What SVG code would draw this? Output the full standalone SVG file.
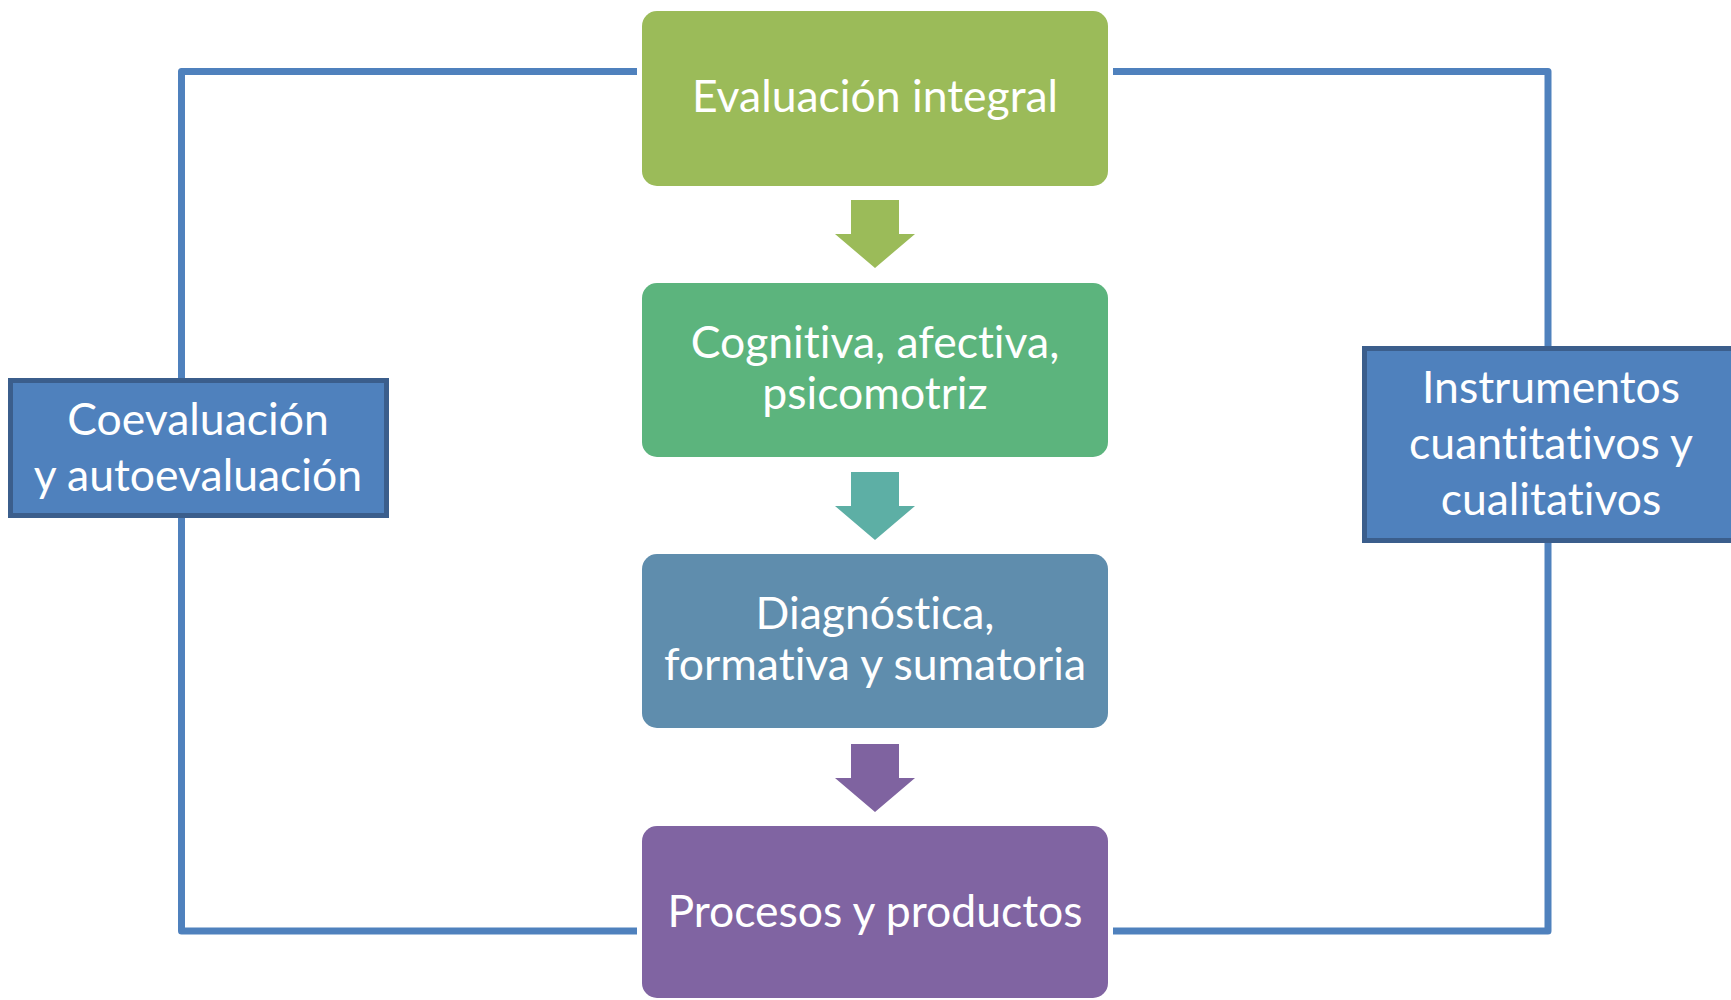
<svg xmlns="http://www.w3.org/2000/svg" width="1731" height="1000" viewBox="0 0 1731 1000">
<style>
.t{font-family:Lato,"Open Sans","Liberation Sans",sans-serif;font-size:44.5px;fill:#ffffff;text-anchor:middle;font-variant-ligatures:none;font-feature-settings:"liga" 0,"dlig" 0}
.ln{fill:none;stroke:#4F81BD;stroke-width:7;stroke-linejoin:round}
.side{fill:#4F81BD;stroke:#3B5E8C;stroke-width:5}
</style>
<rect width="1731" height="1000" fill="#ffffff"/>
<g id="connectors">
<polyline class="ln" points="637,71.5 181.5,71.5 181.5,931 637,931"/>
<polyline class="ln" points="1113,71.5 1548,71.5 1548,931 1113,931"/>
<polygon fill="#9BBB59" points="851,200 899,200 899,234 915,234 875,268 835,234 851,234"/>
<polygon fill="#5DAFA5" points="851,472 899,472 899,506 915,506 875,540 835,506 851,506"/>
<polygon fill="#7F63A0" points="851,744 899,744 899,778 915,778 875,812 835,778 851,778"/>
</g>
<g id="n1">
<rect x="642" y="11" width="466" height="175" rx="15" fill="#9BBB59"/>
<text class="t" x="875" y="112">Evaluación integral</text>
</g>
<g id="n2">
<rect x="642" y="283" width="466" height="174" rx="15" fill="#5CB47D"/>
<text class="t" x="875" y="358">Cognitiva, afectiva,</text>
<text class="t" x="875" y="409">psicomotriz</text>
</g>
<g id="n3">
<rect x="642" y="554" width="466" height="174" rx="15" fill="#5F8DAD"/>
<text class="t" x="875" y="629">Diagnóstica,</text>
<text class="t" x="875" y="680">formativa y sumatoria</text>
</g>
<g id="n4">
<rect x="642" y="826" width="466" height="172" rx="15" fill="#8064A2"/>
<text class="t" x="875" y="927">Procesos y productos</text>
</g>
<g id="n5">
<rect class="side" x="10.5" y="380.5" width="376" height="135"/>
<text class="t" x="198" y="435">Coevaluación</text>
<text class="t" x="198" y="491">y autoevaluación</text>
</g>
<g id="n6">
<rect class="side" x="1364.5" y="348.5" width="380" height="192"/>
<text class="t" x="1551" y="403">Instrumentos</text>
<text class="t" x="1551" y="459">cuantitativos y</text>
<text class="t" x="1551" y="515">cualitativos</text>
</g>
</svg>
